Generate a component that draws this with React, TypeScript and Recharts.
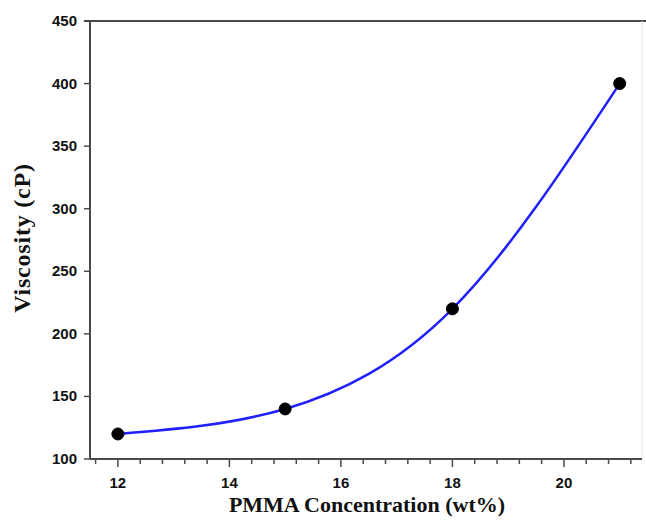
import { LineChart, Line, XAxis, YAxis, ReferenceLine } from "recharts";

const concentration = [12, 15, 18, 21];
const viscosity = [120, 140, 220, 400];

const xTicks = [11.6, 12, 12.4, 12.8, 13.2, 13.6, 14, 14.4, 14.8, 15.2, 15.6, 16, 16.4, 16.8, 17.2, 17.6, 18, 18.4, 18.8, 19.2, 19.6, 20, 20.4, 20.8, 21.2];
const xLabelled = [12, 14, 16, 18, 20];
const yTicks = [100, 150, 200, 250, 300, 350, 400, 450];

const data = concentration.map((c, i) => ({ c, v: viscosity[i] }));

const axisColor = "#4a4a4a";
const tickFont = "'Liberation Sans', Arial, sans-serif";
const titleFont = "'Liberation Serif', 'Times New Roman', serif";

function XTick(props: any) {
  const { x, y, payload } = props;
  const major = xLabelled.includes(payload.value);
  return (
    <g>
      <line x1={x} y1={y} x2={x} y2={y + (major ? 8 : 5)} stroke={axisColor} strokeWidth={1.5} />
      {major && (
        <text x={x} y={y + 29} textAnchor="middle" fontFamily={tickFont} fontWeight="bold" fontSize={15} fill="#111">
          {payload.value}
        </text>
      )}
    </g>
  );
}

function YTick(props: any) {
  const { x, y, payload } = props;
  return (
    <g>
      <line x1={x - 6} y1={y} x2={x} y2={y} stroke={axisColor} strokeWidth={1.5} />
      <text x={x - 13} y={y + 5} textAnchor="end" fontFamily={tickFont} fontWeight="bold" fontSize={15} fill="#111">
        {payload.value}
      </text>
    </g>
  );
}

export default function App() {
  return (
    <div style={{ position: "absolute", left: 0, top: 0, width: 646, height: 521, background: "#fff" }}>
      <LineChart width={646} height={521} data={data} margin={{ top: 21, right: 4, left: 0, bottom: 0 }}>
        <XAxis
          dataKey="c"
          type="number"
          domain={[11.5, 21.4]}
          ticks={xTicks}
          interval={0}
          tick={<XTick />}
          tickSize={0}
          tickMargin={0}
          tickLine={false}
          height={62}
          stroke={axisColor}
          strokeWidth={2}
        />
        <YAxis
          type="number"
          domain={[100, 450]}
          ticks={yTicks}
          interval={0}
          tick={<YTick />}
          tickSize={0}
          tickMargin={0}
          tickLine={false}
          width={90}
          stroke={axisColor}
          strokeWidth={2}
        />
        <ReferenceLine
          segment={[{ x: 11.39, y: 450 }, { x: 21.5, y: 450 }]}
          ifOverflow="visible"
          stroke={axisColor}
          strokeWidth={2}
        />
        <ReferenceLine x={21.4} stroke="#e4e4e4" strokeWidth={1} />
        <Line
          type="natural"
          dataKey="v"
          stroke="#1f1fff"
          strokeWidth={2.5}
          dot={{ r: 6, fill: "#000", stroke: "#000", strokeWidth: 1 }}
          isAnimationActive={false}
        />
        <text x={367} y={512} textAnchor="middle" fontFamily={titleFont} fontWeight="bold" fontSize={22} fill="#111">
          PMMA Concentration (wt%)
        </text>
        <text
          x={30}
          y={238}
          textAnchor="middle"
          fontFamily={titleFont}
          fontWeight="bold"
          fontSize={24}
          letterSpacing={0.8}
          fill="#111"
          transform="rotate(-90 30 238)"
        >
          Viscosity (cP)
        </text>
      </LineChart>
    </div>
  );
}
